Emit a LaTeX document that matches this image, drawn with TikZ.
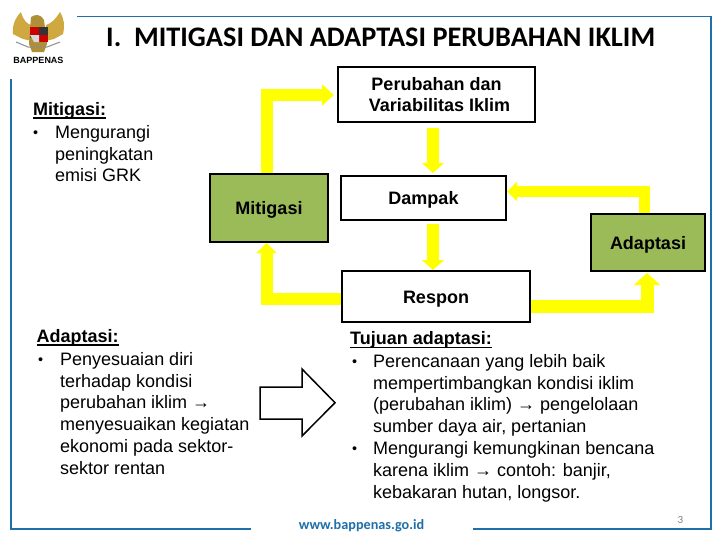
\documentclass[tikz,border=0pt]{standalone}
\usepackage{fontspec}
\setmainfont{Liberation Sans}
\newfontfamily\titlefont{Carlito}
\definecolor{framecol}{HTML}{1F6FA8}
\definecolor{greenbox}{HTML}{9BBB59}
\definecolor{yel}{HTML}{FFFF00}
\definecolor{gold}{HTML}{CFA93F}
\usetikzlibrary{arrows.meta}
\newcommand{\bl}[1]{\rule{0pt}{14pt}\makebox[#1pt][l]{\raisebox{0.8pt}{\scalebox{0.8}{•}}}}
\newcommand{\ind}[1]{\makebox[#1pt]{}}
\tikzset{
  x=1pt,y=-1pt,
  frameline/.style={draw=framecol,line width=1.8pt},
  thinframe/.style={draw=framecol,line width=1pt},
  boxbase/.style={draw=black,line width=1.5pt,align=center,outer sep=0pt,inner sep=0pt,font=\fontsize{18}{21}\selectfont\bfseries},
  whitebox/.style={boxbase,fill=white},
  greenb/.style={boxbase,fill=greenbox},
  oneline/.style={text height=13pt,text depth=0pt},
  flow/.style n args={3}{draw=yel,line width=#1pt,line join=miter,-{Triangle[length=#2pt,width=#3pt]}},
  body/.style={anchor=north west,inner sep=0pt,align=left,font=\fontsize{18}{21.8}\selectfont},
  head/.style={anchor=base west,inner sep=0pt,font=\fontsize{18}{20}\selectfont\bfseries},
  uline/.style={line width=1.1pt},
}
\begin{document}
\begin{tikzpicture}
\useasboundingbox (0,0) rectangle (728,546);
\fill[white] (0,0) rectangle (728,546);
% frame
\draw[thinframe] (91,16.5) -- (670,16.5);
\draw[frameline] (77,16.5) -- (91,16.5);
\draw[frameline] (670,16.5) -- (711,16.5) -- (711,529) -- (473,529);
\draw[frameline] (251,529) -- (11,529) -- (11,79);
% emblem
\fill[gold] (21,12) .. controls (15,18) and (12,26) .. (13,34) -- (23,39) -- (32,41) -- (31,25) .. controls (27,24) and (23,20) .. (21,12) -- cycle;
\fill[gold] (60,12) .. controls (64,18) and (65,26) .. (63,34) -- (54,39) -- (45,41) -- (46,25) .. controls (50,24) and (55,20) .. (60,12) -- cycle;
\fill[gold!85!black] (31,17) .. controls (35,14) and (41,14) .. (44,20) -- (47,44) -- (44,52) -- (32,52) -- (29,44) -- cycle;
\fill[red!80!black] (30,27) rectangle (39,35);
\fill[black!80] (39,27) rectangle (48,35);
\fill[black!70] (30,35) rectangle (39,38);
\fill[red!80!black] (39,35) rectangle (48,42);
\fill[white!85!black] (30,35) -- (39,35) -- (39,42) -- (34,42) -- cycle;
\draw[black!45,line width=1pt] (16,42) -- (28,47) -- (47,47) -- (60,42);
\node[inner sep=0pt,font=\fontsize{9}{10}\selectfont\bfseries] (bap) at (38.5,60.5) {BAPPENAS};
% title
\node[anchor=base west,inner sep=0pt,font=\fontsize{28.3}{30}\selectfont\titlefont\bfseries] (title) at (106,46) {I.\ \ MITIGASI DAN ADAPTASI PERUBAHAN IKLIM};
% boxes
\node[whitebox,minimum width=197pt,minimum height=55pt] (per) at (436.5,94.5) {Perubahan dan\\\hspace*{6pt}Variabilitas Iklim};
\node[whitebox,oneline,minimum width=165pt,minimum height=44pt] (dam) at (423.5,198) {Dampak};
\node[whitebox,oneline,minimum width=188pt,minimum height=51pt] (res) at (436,296.5) {Respon};
\node[greenb,oneline,minimum width=118pt,minimum height=68pt] (mit) at (269,208) {Mitigasi};
\node[greenb,oneline,minimum width=114pt,minimum height=57pt] (ada) at (648,242.5) {Adaptasi};
% connectors
\draw[flow={12}{12}{21}] ([xshift=-2.5pt,yshift=0.7pt]mit.north) |- ([xshift=-4pt,yshift=-0.5pt]per.west);
\draw[flow={12}{10}{22}] ([xshift=-3.5pt,yshift=-6pt]per.south) -- ([xshift=9.5pt,yshift=3pt]dam.north);
\draw[flow={12}{10}{22}] ([xshift=9.5pt,yshift=-4pt]dam.south) -- ([xshift=-3pt,yshift=1pt]res.north);
\draw[flow={12}{10}{20}] ([xshift=-0.7pt,yshift=-2pt]res.west) -| ([xshift=-2.5pt,yshift=-1pt]mit.south);
\draw[flow={11.5}{10}{19}] ([xshift=-3.5pt,yshift=0.7pt]ada.north) |- ([xshift=1pt,yshift=6.5pt]dam.east);
\draw[flow={13}{12}{26}] ([xshift=1pt,yshift=-9.5pt]res.east) -| ([xshift=-1pt,yshift=-2pt]ada.south);
% outline arrow
\draw[line width=1.5pt,line join=miter,fill=white] (260,387) -- (302,387) -- (302,369) -- (335,402.7) -- (302,436) -- (302,419) -- (260,419) -- cycle;
% left text
\node[head] (h1) at (33,115) {Mitigasi:};
\draw[uline] ([yshift=-3pt]h1.base west) -- ([yshift=-3pt]h1.base east);
\node[body] (t1) at (33,124) {\bl{22}Mengurangi\\\ind{22}peningkatan\\\ind{22}emisi GRK};
\node[head] (h2) at (36.5,342) {Adaptasi:};
\draw[uline] ([yshift=-3pt]h2.base west) -- ([yshift=-3pt]h2.base east);
\node[body] (t2) at (38,351) {\bl{22}Penyesuaian diri\\\ind{22}terhadap kondisi\\\ind{22}perubahan iklim →\\\ind{22}menyesuaikan kegiatan\\\ind{22}ekonomi pada sektor-\\\ind{22}sektor rentan};
\node[head] (h3) at (350,344.5) {Tujuan adaptasi:};
\draw[uline] ([yshift=-3pt]h3.base west) -- ([yshift=-3pt]h3.base east);
\node[body] (t3) at (352,353) {\bl{21}Perencanaan yang lebih baik\\\ind{21}mempertimbangkan kondisi iklim\\\ind{21}(perubahan iklim) → pengelolaan\\\ind{21}sumber daya air, pertanian\\\bl{21}Mengurangi kemungkinan bencana\\\ind{21}karena iklim → contoh: banjir,\\\ind{21}kebakaran hutan, longsor.};
% footer
\node[inner sep=0pt,text=framecol,font=\fontsize{14.2}{16}\selectfont\titlefont\bfseries] (web) at (361.5,526) {www.bappenas.go.id};
\node[inner sep=0pt,text=black!50,font=\fontsize{11}{12}\selectfont\titlefont] (pg) at (680.5,520) {3};
\end{tikzpicture}
\end{document}
